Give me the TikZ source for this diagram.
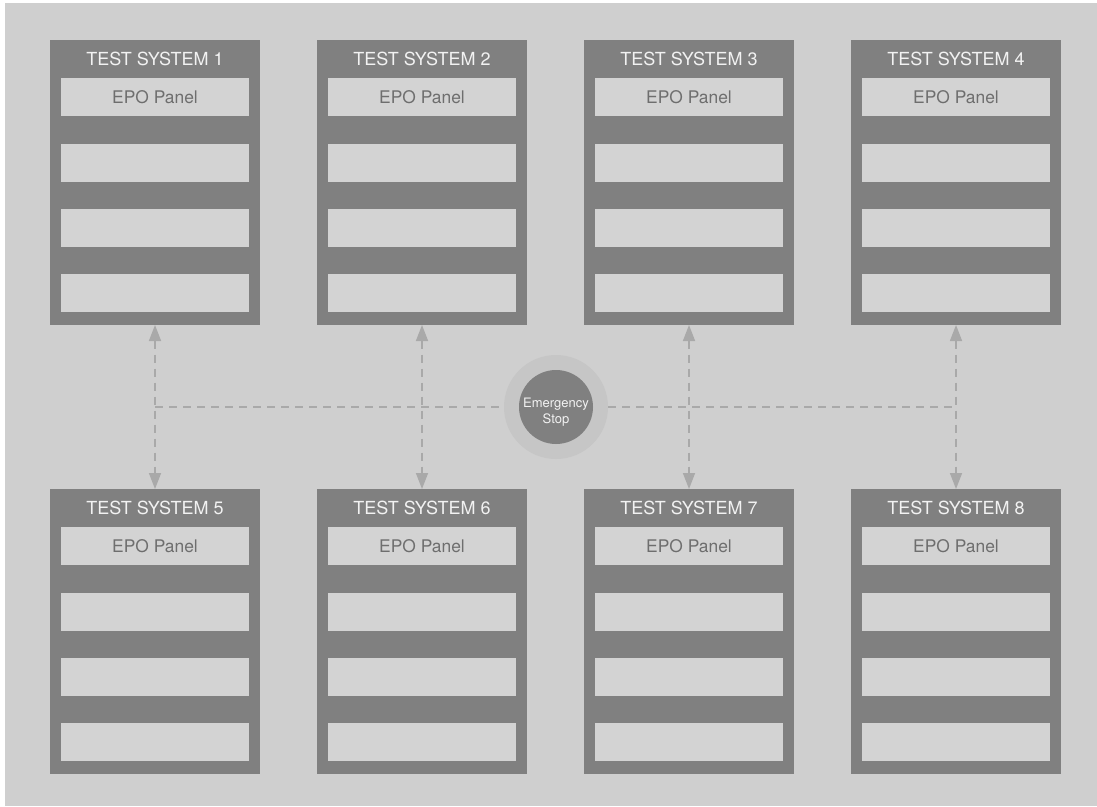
\documentclass[tikz,border=0pt]{standalone}
\usepackage{fontspec}
\setmainfont{TeX Gyre Heros}
\usetikzlibrary{arrows.meta}
\definecolor{bg}{HTML}{CFCFCF}
\definecolor{dark}{HTML}{808080}
\definecolor{panel}{HTML}{D3D3D3}
\definecolor{ptext}{HTML}{6E6E6E}
\definecolor{ltext}{HTML}{F2F2F2}
\definecolor{dashc}{HTML}{A9A9A9}
\definecolor{ring}{HTML}{C6C6C6}
\begin{document}
\begin{tikzpicture}[x=1pt,y=-1pt,
  sysbox/.style={fill=dark, minimum width=210pt, minimum height=285pt, inner sep=0pt, outer sep=0pt, anchor=north west},
  panelbox/.style={fill=panel, minimum width=188pt, minimum height=38pt, inner sep=0pt, outer sep=0pt, anchor=north west, text=ptext, font=\fontsize{17.4}{20}\selectfont},
  titletext/.style={text=ltext, anchor=base, inner sep=0pt, font=\fontsize{18}{20}\selectfont},
  estext/.style={text=ltext, anchor=base, inner sep=0pt, font=\fontsize{13}{15}\selectfont},
  link/.style={draw=dashc, line width=1.5pt, dash pattern=on 8pt off 6pt},
  bitip/.style={{Triangle[length=16pt,width=12pt,fill=dashc]}-{Triangle[length=16pt,width=12pt,fill=dashc]}}
]
\useasboundingbox (0,0) rectangle (1097,806);
\fill[white] (0,0) rectangle (1097,806);
\fill[bg] (5,3) rectangle (1097,806);

\foreach \r in {0,1}{
  \foreach \i in {0,1,2,3}{
    \pgfmathtruncatemacro{\n}{\i+1+4*\r}
    \pgfmathsetmacro{\bx}{50+267*\i}
    \pgfmathsetmacro{\by}{40+449*\r}
    \node[sysbox] (s\n) at (\bx,\by) {};
    \node[titletext] (s\n-title) at (\bx+105,\by+25.7) {TEST SYSTEM \n};
    \node[panelbox] (s\n-p1) at (\bx+11,\by+38) {EPO Panel};
    \node[panelbox] (s\n-p2) at (\bx+11,\by+104) {};
    \node[panelbox] (s\n-p3) at (\bx+11,\by+169) {};
    \node[panelbox] (s\n-p4) at (\bx+11,\by+234) {};
  }
}

\coordinate (h1) at (155,407);
\coordinate (h4) at (956,407);
\node[circle, fill=ring, minimum size=104pt, inner sep=0pt] (esring) at (556,407) {};
\draw[link] (h1) -- (esring.west);
\draw[link] (esring.east) -- (h4);
\node[circle, fill=dark, minimum size=74pt, inner sep=0pt] (es) at (556,407) {};
\node[estext] (es-l1) at (556,407.7) {Emergency};
\node[estext] (es-l2) at (556,423) {Stop};

\foreach \a/\b in {1/5,2/6,3/7,4/8}{
  \draw[link, bitip] (s\a.south) -- (s\b.north);
}
\end{tikzpicture}
\end{document}
